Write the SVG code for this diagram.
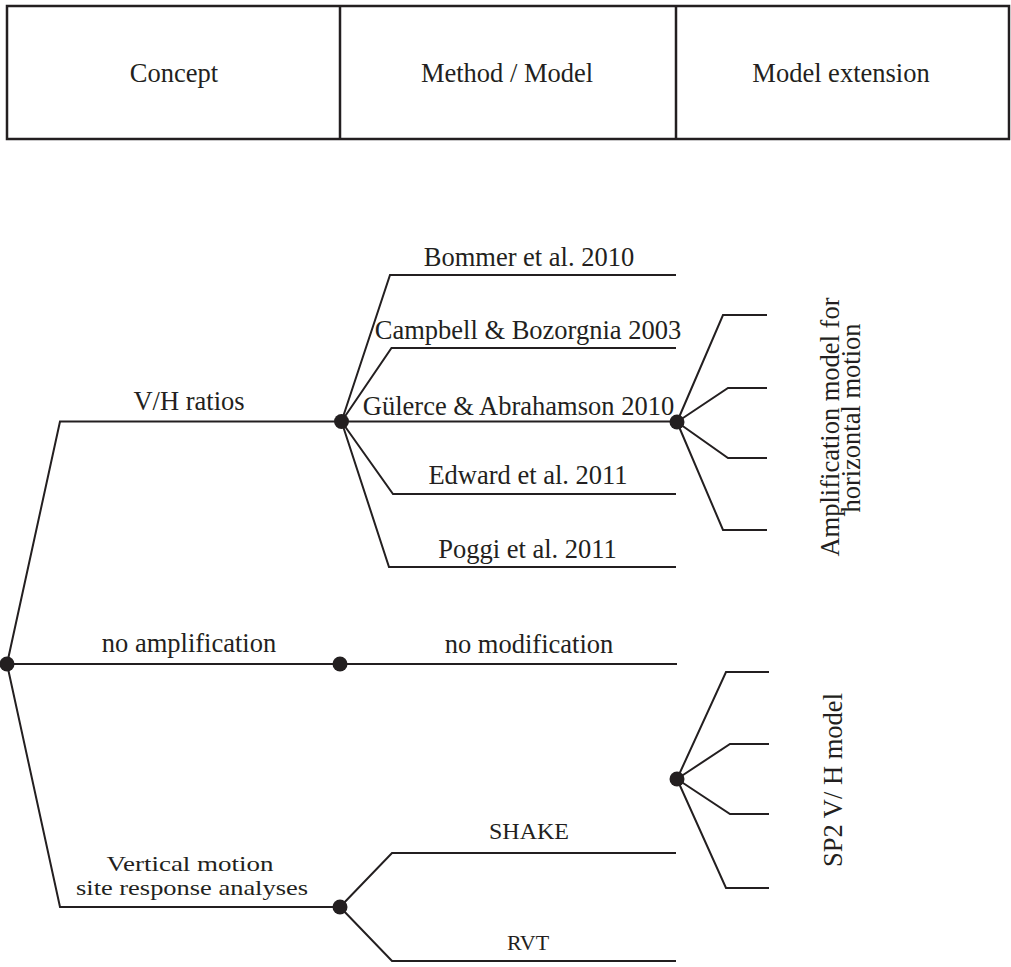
<svg xmlns="http://www.w3.org/2000/svg" width="1011" height="967" viewBox="0 0 1011 967">
  <style>
    .ln { fill: none; stroke: #231f20; stroke-width: 2; stroke-linejoin: miter; }
    .frame { fill: #ffffff; stroke: #231f20; stroke-width: 2.5; }
    .dot { fill: #231f20; }
    text { font-family: "Liberation Serif", "Times New Roman", serif; font-size: 26.5px; fill: #231f20; text-anchor: middle; }
    .sm { font-size: 22px; }
    .wide { font-size: 21px; }
  </style>
  <rect width="1011" height="967" fill="#ffffff"/>

  <!-- column header -->
  <g id="header">
    <rect class="frame" x="7" y="6" width="1002" height="133"/>
    <line class="frame" x1="340" y1="6" x2="340" y2="139"/>
    <line class="frame" x1="676" y1="6" x2="676" y2="139"/>
    <text x="174" y="82">Concept</text>
    <text x="507" y="82">Method / Model</text>
    <text x="841" y="82">Model extension</text>
  </g>

  <!-- branches -->
  <g id="connectors">
    <!-- concept level -->
    <polyline class="ln" points="7,664 60,421.5 341.5,421.5"/>
    <line class="ln" x1="7" y1="664" x2="677" y2="664"/>
    <polyline class="ln" points="7,664 60,907 340,907"/>
    <!-- V/H ratio models -->
    <polyline class="ln" points="341.5,421.5 390,275 676,275"/>
    <polyline class="ln" points="341.5,421.5 391.5,348 676,348"/>
    <line class="ln" x1="341.5" y1="421.5" x2="677" y2="421.5"/>
    <polyline class="ln" points="341.5,421.5 393,494 676,494"/>
    <polyline class="ln" points="341.5,421.5 389,567 676,567"/>
    <!-- horizontal amplification extension -->
    <polyline class="ln" points="677,422 723,315 767,315"/>
    <polyline class="ln" points="677,422 728,388 767,388"/>
    <polyline class="ln" points="677,422 728,458 767,458"/>
    <polyline class="ln" points="677,422 723,530 767,530"/>
    <!-- site response analyses -->
    <polyline class="ln" points="340,907 392,853 676,853"/>
    <polyline class="ln" points="340,907 392,961 676,961"/>
    <!-- SP2 V/H extension -->
    <polyline class="ln" points="677,779 726,672 769,672"/>
    <polyline class="ln" points="677,779 730,744 769,744"/>
    <polyline class="ln" points="677,779 730,814 769,814"/>
    <polyline class="ln" points="677,779 726,888 769,888"/>
  </g>

  <g id="root"><circle class="dot" cx="7" cy="664" r="7.5"/></g>

  <g id="vh-ratios">
    <text x="189" y="410">V/H ratios</text>
    <circle class="dot" cx="341.5" cy="421.5" r="7.5"/>
  </g>

  <g id="no-amplification">
    <text x="189" y="652">no amplification</text>
    <circle class="dot" cx="340" cy="664" r="7.5"/>
  </g>

  <g id="vertical-sra">
    <text class="wide" x="190" y="871" textLength="167" lengthAdjust="spacingAndGlyphs">Vertical motion</text>
    <text class="wide" x="192" y="895" textLength="232" lengthAdjust="spacingAndGlyphs">site response analyses</text>
    <circle class="dot" cx="340" cy="907" r="7.5"/>
  </g>

  <g id="bommer"><text x="529" y="266">Bommer et al. 2010</text></g>
  <g id="campbell"><text x="528" y="339">Campbell &amp; Bozorgnia 2003</text></g>
  <g id="gulerce">
    <text x="518.5" y="415">Gülerce &amp; Abrahamson 2010</text>
    <circle class="dot" cx="677" cy="422" r="7.5"/>
  </g>
  <g id="edward"><text x="528" y="484">Edward et al. 2011</text></g>
  <g id="poggi"><text x="527.5" y="558">Poggi et al. 2011</text></g>
  <g id="no-modification"><text x="529" y="653">no modification</text></g>
  <g id="shake"><text class="sm" x="529" y="839" style="font-size:24px">SHAKE</text></g>
  <g id="rvt"><text class="sm" x="528" y="950">RVT</text></g>

  <g id="horizontal-amplification">
    <text transform="translate(839,427) rotate(-90)">Amplification model for</text>
    <text transform="translate(860,418) rotate(-90)">horizontal motion</text>
  </g>

  <g id="sp2-vh">
    <circle class="dot" cx="677" cy="779" r="7.5"/>
    <text transform="translate(842,780) rotate(-90)">SP2 V/ H model</text>
  </g>
</svg>
